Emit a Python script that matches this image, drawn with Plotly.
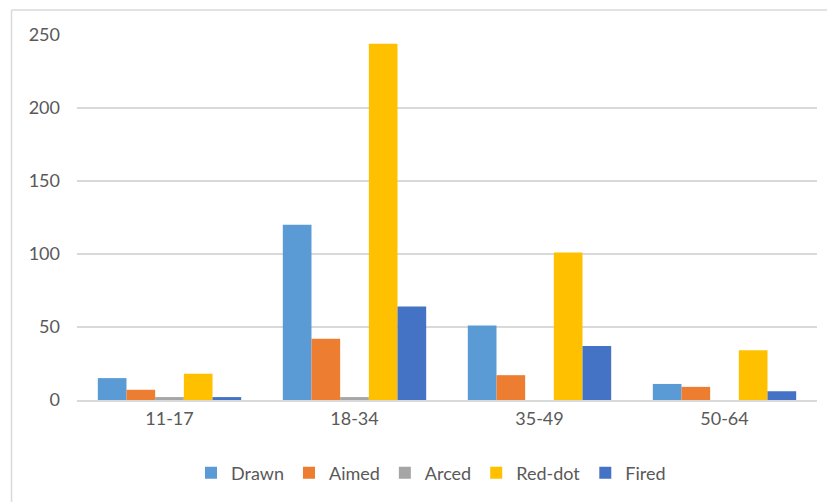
import plotly.graph_objects as go

# Age groups and counts per stance
age_groups = ["11-17", "18-34", "35-49", "50-64"]
drawn = [15, 120, 51, 11]
aimed = [7, 42, 17, 9]
arced = [2, 2, 0, 0]
red_dot = [18, 244, 101, 34]
fired = [2, 64, 37, 6]

series_names = ["Drawn", "Aimed", "Arced", "Red-dot", "Fired"]
series_values = [drawn, aimed, arced, red_dot, fired]
series_colors = ["#5B9BD5", "#ED7D31", "#A5A5A5", "#FFC000", "#4472C4"]

y_ticks = [0, 50, 100, 150, 200, 250]

fig = go.Figure()
for name, vals, color in zip(series_names, series_values, series_colors):
    fig.add_trace(go.Bar(
        x=age_groups, y=vals, name=name,
        marker=dict(color=color, line=dict(width=0)),
    ))

W, H = 827, 502
L, R, T, B = 77, 10, 35, 102
pw, ph = W - L - R, H - T - B

def px_x(px):
    return (px - L) / pw

def px_y(py):
    return (H - B - py) / ph

font_family = "Lato, 'Noto Sans', sans-serif"
text_color = "#595959"

fig.update_layout(
    width=W, height=H,
    margin=dict(l=L, r=R, t=T, b=B, pad=0),
    paper_bgcolor="white", plot_bgcolor="white",
    barmode="group", bargap=0.225, bargroupgap=0,
    font=dict(family=font_family, size=18, color=text_color),
    showlegend=True,
    legend=dict(
        orientation="h", x=px_x(431), xanchor="center",
        y=px_y(473), yanchor="middle",
        font=dict(size=18, color=text_color),
        itemwidth=30, traceorder="normal",
        bgcolor="rgba(0,0,0,0)",
    ),
    xaxis=dict(
        showgrid=False, showline=True, linecolor="#D9D9D9", linewidth=1.5,
        ticks="", tickfont=dict(size=18, color=text_color),
        ticklabelstandoff=2, fixedrange=True,
    ),
    yaxis=dict(
        range=[0, 250], tickvals=y_ticks, showgrid=True,
        gridcolor="#D9D9D9", gridwidth=1.5, zeroline=False,
        showline=False, ticks="", tickfont=dict(size=18, color=text_color),
        ticklabelstandoff=16, fixedrange=True,
    ),
    shapes=[
        dict(type="line", xref="paper", yref="paper",
             x0=px_x(11.5), x1=px_x(11.5), y0=px_y(H + 5), y1=px_y(10),
             line=dict(color="#D9D9D9", width=1.5)),
        dict(type="line", xref="paper", yref="paper",
             x0=px_x(11.5), x1=px_x(W + 5), y0=px_y(10), y1=px_y(10),
             line=dict(color="#D9D9D9", width=1.5)),
    ],
)

fig.write_html("out.html")
